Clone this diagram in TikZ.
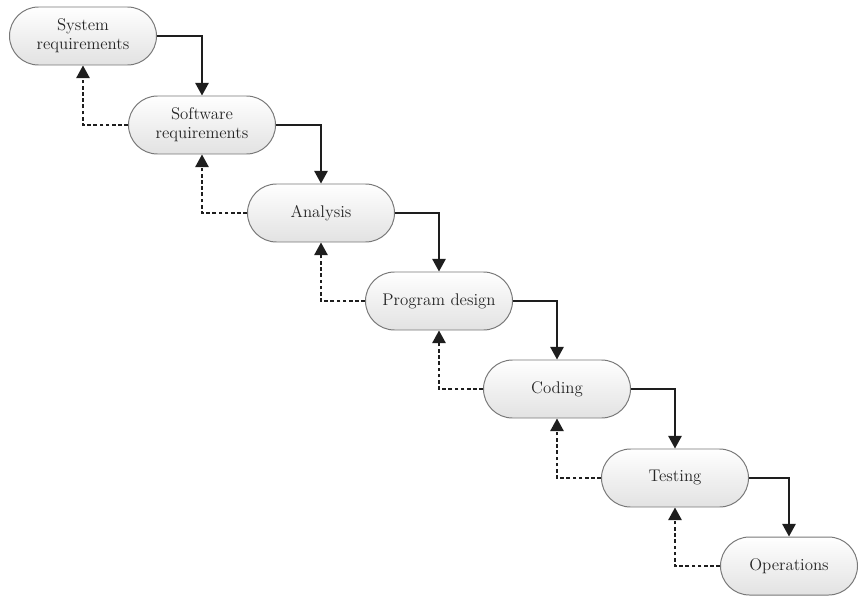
\documentclass[tikz,border=0pt]{standalone}
\usepackage{tikz}
\usepackage{xcolor}
\usetikzlibrary{arrows.meta}
\usetikzlibrary{shapes.misc}

\definecolor{boxedge}{RGB}{120,120,120}
\definecolor{boxlow}{RGB}{226,226,226}
\definecolor{linedark}{RGB}{30,30,30}

\begin{document}
\begin{tikzpicture}[
	fase/.style={rounded rectangle, draw=boxedge, line width=0.7pt, top color=white, bottom color=boxlow, minimum width=3.675cm, minimum height=1.45cm, inner sep=0pt, align=center, font=\fontsize{12}{13.5}\selectfont, text=black!85},
	avanti/.style={line width=1.3pt, draw=linedark, -{Triangle[length=9pt,width=9.5pt]}},
	indietro/.style={line width=1.3pt, draw=linedark, dash pattern=on 2.6pt off 1.8pt, -{Triangle[length=9pt,width=9.5pt]}}
	]
	
	\useasboundingbox (0,0) rectangle (21.475,-14.95);
	
	%nodi
	\node[fase] (sysreq) at (2.075,-0.9) {System\\requirements};
	\node[fase] (swreq) at (5.05,-3.125) {Software\\requirements};
	\node[fase] (analysis) at (8.025,-5.325) {Analysis};
	\node[fase] (design) at (10.975,-7.525) {Program design};
	\node[fase] (coding) at (13.925,-9.725) {Coding};
	\node[fase] (testing) at (16.875,-11.95) {Testing};
	\node[fase, minimum width=3.425cm] (operations) at (19.725,-14.15) {Operations};
	
	%frecce avanti
	\draw[avanti] (sysreq.east) -| (swreq.north);
	\draw[avanti] (swreq.east) -| (analysis.north);
	\draw[avanti] (analysis.east) -| (design.north);
	\draw[avanti] (design.east) -| (coding.north);
	\draw[avanti] (coding.east) -| (testing.north);
	\draw[avanti] (testing.east) -| (operations.north);
	
	%frecce indietro
	\draw[indietro] (swreq.west) -| (sysreq.south);
	\draw[indietro] (analysis.west) -| (swreq.south);
	\draw[indietro] (design.west) -| (analysis.south);
	\draw[indietro] (coding.west) -| (design.south);
	\draw[indietro] (testing.west) -| (coding.south);
	\draw[indietro] (operations.west) -| (testing.south);
	
\end{tikzpicture}
\end{document}
